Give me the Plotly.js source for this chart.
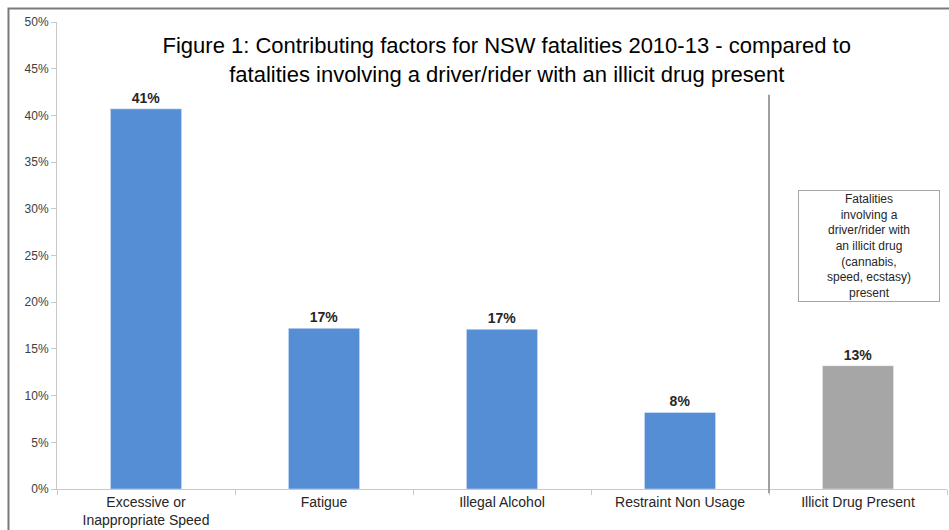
<!DOCTYPE html>
<html>
<head>
<meta charset="utf-8">
<script src="https://cdn.plot.ly/plotly-3.0.1.min.js"></script>
<style>html,body{margin:0;padding:0;background:#fff;}#chart{width:949px;height:530px;}</style>
</head>
<body>
<div id="chart"></div>
<script>
const categories = ["Excessive or<br>Inappropriate Speed", "Fatigue", "Illegal Alcohol", "Restraint Non Usage", "Illicit Drug Present"];
const shares = [0.407, 0.172, 0.171, 0.082, 0.132];
const yTickValues = [0, 0.05, 0.10, 0.15, 0.20, 0.25, 0.30, 0.35, 0.40, 0.45, 0.50];
const titleText = "Figure 1: Contributing factors for NSW fatalities 2010-13 - compared to<br>fatalities involving a driver/rider with an illicit drug present";
const noteText = "Fatalities<br>involving a<br>driver/rider with<br>an illicit drug<br>(cannabis,<br>speed, ecstasy)<br>present";

const blue = "#558ed5", gray = "#a6a6a6";
const colors = categories.map(c => c === "Illicit Drug Present" ? gray : blue);
const font = "Liberation Sans, Arial, sans-serif";

const trace = {
  type: "bar",
  x: categories,
  y: shares,
  width: 0.4,
  marker: {color: colors, line: {color: "rgba(255,255,255,0.4)", width: 1}},
  text: shares.map(v => "<b>" + Math.round(v * 100) + "%</b>"),
  textposition: "outside",
  textfont: {family: font, size: 14, color: "#262626"},
  cliponaxis: false,
  hoverinfo: "skip"
};

const layout = {
  width: 949, height: 530,
  margin: {l: 57, r: 2, t: 22, b: 41},
  paper_bgcolor: "#fff", plot_bgcolor: "#fff",
  showlegend: false,
  font: {family: font, color: "#404040"},
  title: {
    text: titleText,
    font: {family: font, size: 22, color: "#000"},
    xref: "container", x: 0.534, xanchor: "center",
    yref: "container", y: 0.9, yanchor: "top"
  },
  xaxis: {
    type: "category",
    range: [-0.5, 4.5],
    showgrid: false, zeroline: false,
    showline: true, linecolor: "#c8c8c8", linewidth: 1,
    ticks: "outside", tickson: "boundaries", ticklen: 5, tickcolor: "#c8c8c8",
    tickfont: {family: font, size: 14, color: "#262626"}
  },
  yaxis: {
    range: [0, 0.5],
    tickvals: yTickValues,
    tickformat: ".0%",
    showgrid: false, zeroline: false,
    showline: true, linecolor: "#c8c8c8", linewidth: 1,
    ticks: "outside", ticklen: 5, tickcolor: "#c8c8c8",
    tickfont: {family: font, size: 12, color: "#404040"}
  },
  shapes: [
    {type: "line", xref: "x", yref: "paper", x0: 3.5, x1: 3.5, y0: -0.009, y1: 0.844,
     line: {color: "#a0a0a0", width: 2}},
    {type: "rect", xref: "paper", yref: "paper", x0: -0.0545, x1: 1.1, y0: -0.2, y1: 1.029,
     line: {color: "#7a7a7a", width: 2}, fillcolor: "rgba(0,0,0,0)"}
  ],
  annotations: [
    {xref: "paper", yref: "paper", x: 0.912, y: 0.52, xanchor: "center", yanchor: "middle",
     text: noteText, showarrow: false, align: "center",
     font: {family: font, size: 12, color: "#262626"},
     bgcolor: "#fff", bordercolor: "#a6a6a6", borderwidth: 1, borderpad: 0,
     width: 140, height: 110}
  ]
};

Plotly.newPlot("chart", [trace], layout, {displayModeBar: false, staticPlot: true});
</script>
</body>
</html>
